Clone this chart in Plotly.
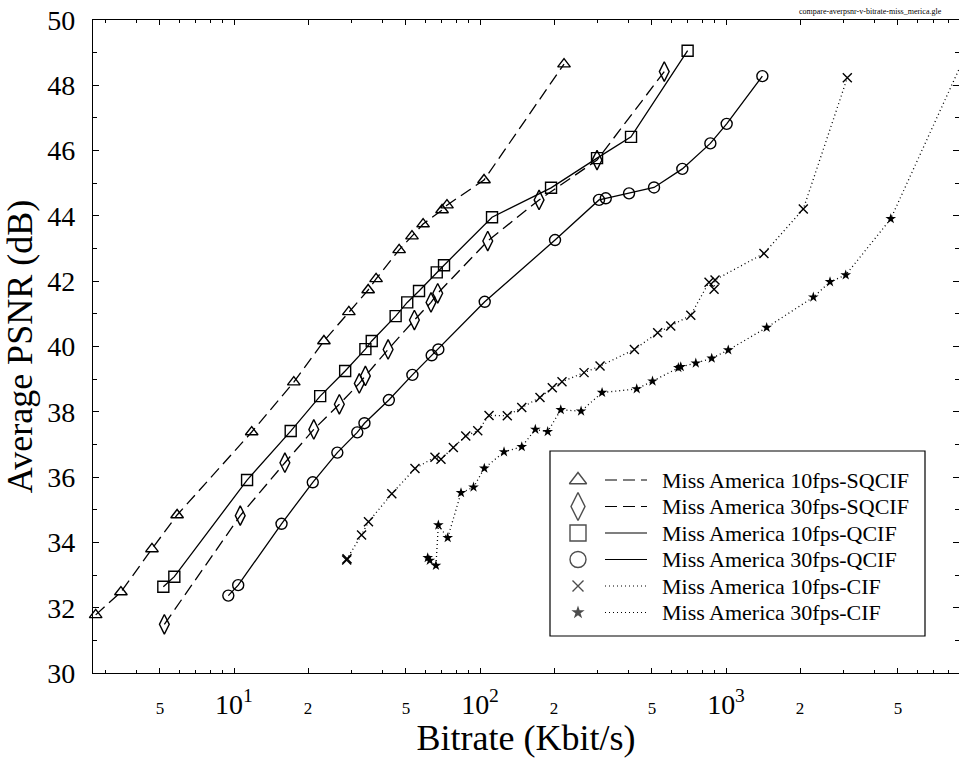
import plotly.graph_objects as go

# ---------------- data (Bitrate in Kbit/s, PSNR in dB) ----------------
sq10_x = [2.74, 3.47, 4.64, 5.87, 11.8, 17.5, 23.2, 29.3, 35.1, 37.8, 46.9, 52.9, 58.7, 70.1, 73.4, 103.8, 219.5]
sq10_y = [31.78, 32.48, 33.80, 34.84, 37.38, 38.91, 40.17, 41.06, 41.73, 42.07, 42.96, 43.38, 43.75, 44.18, 44.33, 45.10, 48.65]

sq30_x = [5.21, 10.6, 16.1, 21.1, 26.8, 32.3, 34.2, 42.3, 54.1, 63.2, 67.3, 107.5, 173.8, 299, 561]
sq30_y = [31.49, 34.82, 36.44, 37.46, 38.23, 38.87, 39.10, 39.91, 40.81, 41.35, 41.63, 43.23, 44.49, 45.71, 48.42]

q10_x = [5.16, 5.72, 11.3, 17.0, 22.4, 28.3, 34.2, 36.3, 45.4, 50.6, 56.5, 66.7, 71.4, 111.9, 194.4, 299, 411, 698]
q10_y = [32.64, 32.95, 35.91, 37.41, 38.48, 39.25, 39.92, 40.17, 40.93, 41.35, 41.70, 42.27, 42.49, 43.96, 44.86, 45.77, 46.42, 49.06]

q30_x = [9.48, 10.4, 15.6, 20.9, 26.3, 31.7, 33.9, 42.6, 53.1, 63.6, 67.7, 104.5, 201.8, 304.6, 324.5, 403.4, 509.7, 664.3, 863.5, 1006, 1405]
q30_y = [32.37, 32.69, 34.57, 35.84, 36.75, 37.37, 37.65, 38.36, 39.13, 39.73, 39.91, 41.37, 43.26, 44.49, 44.54, 44.69, 44.87, 45.44, 46.22, 46.82, 48.28]

c10_x = [28.7, 28.8, 33.0, 35.2, 43.8, 54.4, 65.6, 69.4, 77.9, 87.5, 97.9, 108.8, 129.1, 147.8, 175.3, 196.7, 215.4,
         264.8, 307.5, 424, 527.5, 596, 719, 853, 894, 902, 1426, 2061, 3112]
c10_y = [33.46, 33.50, 34.23, 34.63, 35.49, 36.26, 36.61, 36.55, 36.91, 37.26, 37.42, 37.89, 37.88, 38.13, 38.44, 38.74, 38.92,
         39.20, 39.40, 39.91, 40.42, 40.63, 40.96, 41.97, 41.75, 42.04, 42.85, 44.21, 48.23]

c30_x = [61.3, 62.5, 66.2, 67.7, 73.9, 83.7, 94.1, 104.1, 125.2, 147.8, 167.8, 188.4, 212.9, 257.5, 313.4, 433.5, 502.5,
         639.9, 654.5, 753.6, 874.7, 1021, 1463, 2264, 2647, 3066, 4673, 9500]
c30_y = [33.53, 33.45, 33.29, 34.53, 34.14, 35.52, 35.69, 36.27, 36.77, 36.93, 37.46, 37.39, 38.06, 38.02, 38.59, 38.70, 38.94,
         39.35, 39.38, 39.49, 39.64, 39.89, 40.58, 41.51, 41.98, 42.19, 43.91, 49.0]

names = ["Miss America 10fps-SQCIF", "Miss America 30fps-SQCIF", "Miss America 10fps-QCIF",
         "Miss America 30fps-QCIF", "Miss America 10fps-CIF", "Miss America 30fps-CIF"]

SMALL = "<span style='font-size:17px'>%s</span>"
x_label_vals = [5, 10, 20, 50, 100, 200, 500, 1000, 2000, 5000]
x_label_text = [SMALL % "5", "10<sup>1</sup>", SMALL % "2", SMALL % "5", "10<sup>2</sup>",
                SMALL % "2", SMALL % "5", "10<sup>3</sup>", SMALL % "2", SMALL % "5"]
x_minor_vals = [3, 4, 6, 7, 8, 9, 30, 40, 60, 70, 80, 90, 300, 400, 600, 700, 800, 900, 3000, 4000, 6000, 7000, 8000]
y_tick_vals = list(range(30, 51, 2))

# ---------------- styles ----------------
dashes = ["12px,6px", "12px,6px", "solid", "solid", "1px,3px", "1px,3px"]
symbols = ["triangle-up-open", "diamond-tall-open", "square-open", "circle-open", "x-thin-open", "star"]
sizes = [11, 14, 11, 11, 9, 8]
lws = [1.4, 1.4, 1.4, 1.4, 1.4, 0]

xs = [sq10_x, sq30_x, q10_x, q30_x, c10_x, c30_x]
ys = [sq10_y, sq30_y, q10_y, q30_y, c10_y, c30_y]

fig = go.Figure()
for i in range(6):
    fig.add_trace(go.Scatter(
        x=xs[i], y=ys[i], mode="lines+markers", name=names[i],
        line=dict(color="black", width=1.3, dash=dashes[i]),
        marker=dict(symbol=symbols[i], size=sizes[i], color="black",
                    line=dict(color="black", width=lws[i])),
        cliponaxis=False if i == 0 else True,
        showlegend=False,
    ))

# ---------------- legend drawn manually (pixel-like overlay axes) ----------------
PX_L, PX_R, PX_T, PX_B = 93, 959, 20, 673
def px(xp):
    return (xp - PX_L) / (PX_R - PX_L)
def py(yp):
    return (PX_B - yp) / (PX_B - PX_T)

rows = [480, 506.5, 533, 559.5, 586, 612.5]
fig.add_trace(go.Scatter(
    x=[578] * 6, y=rows, xaxis="x2", yaxis="y2", mode="markers",
    marker=dict(symbol=symbols, size=[15, 20, 16, 16, 11, 10], color="black",
                line=dict(color="black", width=[1.4, 1.4, 1.4, 1.4, 1.4, 0])),
    showlegend=False, hoverinfo="skip",
))
shapes = [dict(type="rect", xref="x2", yref="y2", x0=550, x1=925, y0=451, y1=636,
               line=dict(color="black", width=1.2), fillcolor="white", layer="below")]
for r, d in zip(rows, dashes):
    shapes.append(dict(type="line", xref="x2", yref="y2", x0=605, x1=647, y0=r, y1=r,
                       line=dict(color="black", width=1.2, dash=d)))
annotations = [dict(xref="paper", yref="paper", x=px(660), y=py(r), text=n, showarrow=False,
                    xanchor="left", yanchor="middle", font=dict(size=22, color="black"))
               for r, n in zip(rows, names)]
annotations.append(dict(xref="paper", yref="paper", x=px(870), y=py(12),
                        text="compare-averpsnr-v-bitrate-miss_merica.gle",
                        showarrow=False, xanchor="center", yanchor="middle",
                        font=dict(size=8, color="black")))

fig.update_layout(
    width=959, height=758,
    margin=dict(l=93, r=0, t=20, b=85),
    paper_bgcolor="white", plot_bgcolor="white",
    font=dict(family="Liberation Serif", color="black"),
    showlegend=False,
    xaxis=dict(
        type="log", range=[0.4268, 3.947],
        tickmode="array", tickvals=x_label_vals, ticktext=x_label_text,
        ticks="inside", ticklen=5, tickwidth=1, tickcolor="black",
        showline=True, linecolor="black", linewidth=1.2, mirror="ticks",
        showgrid=False, zeroline=False,
        tickfont=dict(size=28, family="Liberation Serif", color="black"),
        ticklabelstandoff=6,
        minor=dict(tickvals=x_minor_vals, ticks="inside", ticklen=3, tickcolor="black", showgrid=False),
        title=dict(text="Bitrate (Kbit/s)", font=dict(size=36, family="Liberation Serif", color="black"), standoff=4),
    ),
    yaxis=dict(
        range=[30, 50], tickmode="array", tickvals=y_tick_vals,
        ticks="inside", ticklen=6, tickwidth=1, tickcolor="black",
        showline=True, linecolor="black", linewidth=1.2, mirror="ticks",
        showgrid=False, zeroline=False,
        tickfont=dict(size=28, family="Liberation Serif", color="black"),
        ticklabelstandoff=11,
        minor=dict(dtick=1, ticks="inside", ticklen=4, tickcolor="black", showgrid=False),
        title=dict(text="Average PSNR (dB)", font=dict(size=36, family="Liberation Serif", color="black"), standoff=6),
    ),
    xaxis2=dict(overlaying="x", anchor="y2", range=[PX_L, PX_R], visible=False, fixedrange=True),
    yaxis2=dict(overlaying="y", anchor="x2", range=[PX_B, PX_T], visible=False, fixedrange=True),
    shapes=shapes,
    annotations=annotations,
)

fig.write_html("out.html")
